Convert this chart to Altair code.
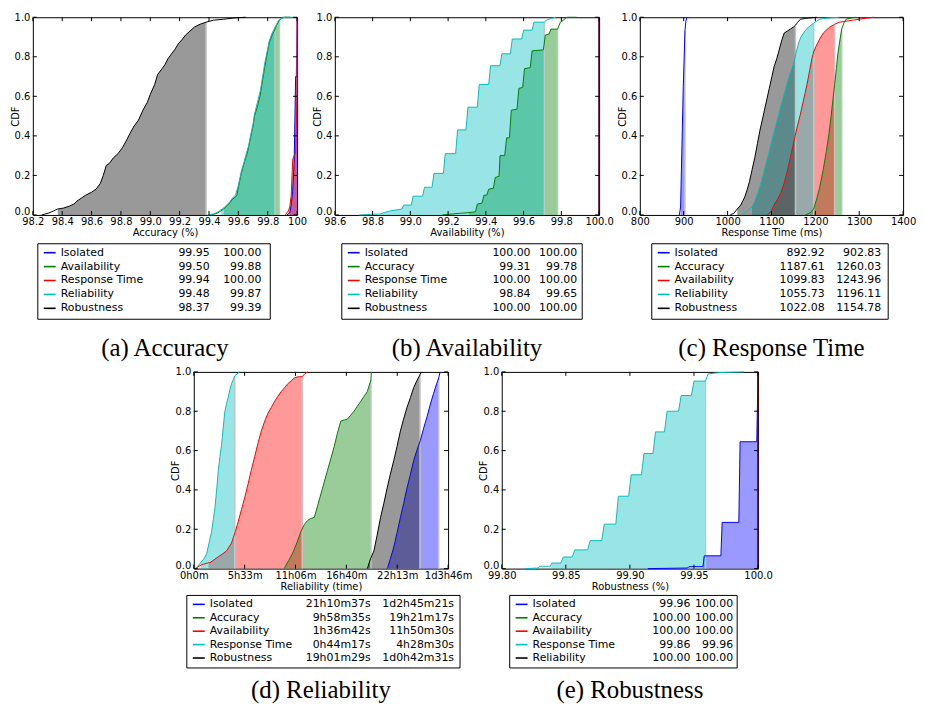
import altair as alt
import pandas as pd

FONT = "DejaVu Sans"
SERIF = "Liberation Serif"
COLORS = ["#0000ff", "#008000", "#ff0000", "#00bfbf", "#000000"]
Y_TICKS = [0.0, 0.2, 0.4, 0.6, 0.8, 1.0]

# ---------------- (a) Accuracy ----------------
A_NAMES = ["Isolated", "Availability", "Response Time", "Reliability", "Robustness"]
A_LO = ["99.95", "99.50", "99.94", "99.48", "98.37"]
A_HI = ["100.00", "99.88", "100.00", "99.87", "99.39"]
A_FILLS = [[99.95, 100.0], [99.50, 99.88], [99.94, 100.0], [99.48, 99.85], [98.37, 99.38]]
A_XTICKS = [98.2, 98.4, 98.6, 98.8, 99.0, 99.2, 99.4, 99.6, 99.8, 100.0]
A_XLABELS = ["98.2", "98.4", "98.6", "98.8", "99.0", "99.2", "99.4", "99.6", "99.8", "100"]
A_ISOLATED = [[99.93, 0.0], [99.95, 0.01], [99.96, 0.05], [99.97, 0.12], [99.98, 0.26],
              [99.99, 0.70], [100.0, 0.70], [100.0, 1.0]]
A_AVAILABILITY = [[99.41, 0.0], [99.44, 0.005], [99.46, 0.01], [99.48, 0.02], [99.50, 0.03],
                  [99.52, 0.045], [99.54, 0.06], [99.56, 0.08], [99.58, 0.09], [99.59, 0.10],
                  [99.60, 0.14], [99.62, 0.21], [99.63, 0.24], [99.65, 0.29], [99.66, 0.31],
                  [99.68, 0.38], [99.70, 0.45], [99.71, 0.50], [99.73, 0.55], [99.75, 0.61],
                  [99.76, 0.66], [99.78, 0.75], [99.79, 0.79], [99.81, 0.87], [99.83, 0.91],
                  [99.85, 0.94], [99.86, 0.96], [99.88, 0.985], [99.90, 1.0], [99.95, 1.0]]
A_RESPONSE = [[99.92, 0.0], [99.94, 0.02], [99.95, 0.04], [99.96, 0.10], [99.97, 0.28],
              [99.98, 0.30], [99.99, 0.31], [100.0, 0.62], [100.0, 1.0]]
A_RELIABILITY = [[99.39, 0.0], [99.43, 0.005], [99.46, 0.015], [99.48, 0.025], [99.50, 0.035],
                 [99.52, 0.05], [99.54, 0.065], [99.56, 0.085], [99.58, 0.10], [99.60, 0.15],
                 [99.62, 0.22], [99.64, 0.27], [99.65, 0.30], [99.67, 0.35], [99.68, 0.39],
                 [99.70, 0.46], [99.71, 0.51], [99.73, 0.57], [99.75, 0.63], [99.77, 0.72],
                 [99.78, 0.77], [99.80, 0.84], [99.81, 0.88], [99.83, 0.92], [99.85, 0.95],
                 [99.87, 0.98], [99.89, 0.995], [99.92, 1.0], [99.97, 1.0]]
A_ROBUSTNESS = [[98.26, 0.0], [98.31, 0.01], [98.34, 0.02], [98.37, 0.03], [98.41, 0.035],
                [98.45, 0.045], [98.48, 0.055], [98.50, 0.07], [98.53, 0.085], [98.56, 0.10],
                [98.60, 0.115], [98.63, 0.13], [98.66, 0.16], [98.68, 0.20], [98.70, 0.25],
                [98.72, 0.26], [98.75, 0.29], [98.78, 0.31], [98.81, 0.34], [98.84, 0.38],
                [98.86, 0.41], [98.89, 0.45], [98.92, 0.48], [98.95, 0.53], [98.98, 0.57],
                [99.00, 0.61], [99.03, 0.66], [99.05, 0.71], [99.08, 0.74], [99.10, 0.76],
                [99.12, 0.79], [99.14, 0.81], [99.17, 0.84], [99.19, 0.865], [99.22, 0.89],
                [99.24, 0.91], [99.27, 0.93], [99.30, 0.95], [99.34, 0.965], [99.38, 0.975],
                [99.43, 0.985], [99.50, 0.99], [99.58, 0.997], [99.65, 1.0]]

# ---------------- (b) Availability ----------------
B_NAMES = ["Isolated", "Accuracy", "Response Time", "Reliability", "Robustness"]
B_LO = ["100.00", "99.31", "100.00", "98.84", "100.00"]
B_HI = ["100.00", "99.78", "100.00", "99.65", "100.00"]
B_FILLS = [[100.0, 100.0], [99.31, 99.78], [100.0, 100.0], [98.84, 99.71], [100.0, 100.0]]
B_XTICKS = [98.6, 98.8, 99.0, 99.2, 99.4, 99.6, 99.8, 100.0]
B_XLABELS = ["98.6", "98.8", "99.0", "99.2", "99.4", "99.6", "99.8", "100.0"]
B_ISOLATED = [[100.0, 0.0], [100.0, 1.0]]
B_ACCURACY = [[99.17, 0.0], [99.26, 0.008], [99.31, 0.012], [99.345, 0.016], [99.355, 0.055],
              [99.38, 0.06], [99.39, 0.10], [99.405, 0.10], [99.415, 0.13], [99.44, 0.135],
              [99.45, 0.19], [99.47, 0.195], [99.475, 0.30], [99.50, 0.30], [99.51, 0.39],
              [99.525, 0.39], [99.535, 0.53], [99.565, 0.535], [99.575, 0.64], [99.595, 0.645],
              [99.605, 0.74], [99.635, 0.745], [99.645, 0.83], [99.705, 0.835], [99.715, 0.91],
              [99.735, 0.915], [99.745, 0.94], [99.78, 0.94], [99.795, 0.975], [99.81, 0.985],
              [99.83, 1.0], [99.88, 1.0]]
B_RESPONSE = [[100.0, 0.0], [100.0, 1.0]]
B_RELIABILITY = [[98.73, 0.0], [98.84, 0.005], [98.89, 0.02], [98.955, 0.03], [98.965, 0.05],
                 [99.005, 0.05], [99.015, 0.095], [99.065, 0.095], [99.075, 0.14], [99.115, 0.14],
                 [99.125, 0.21], [99.175, 0.21], [99.185, 0.31], [99.24, 0.31], [99.25, 0.43],
                 [99.295, 0.43], [99.305, 0.545], [99.355, 0.545], [99.365, 0.66], [99.415, 0.66],
                 [99.425, 0.755], [99.475, 0.755], [99.485, 0.815], [99.53, 0.815], [99.54, 0.89],
                 [99.59, 0.89], [99.60, 0.935], [99.645, 0.935], [99.655, 0.975], [99.71, 0.975],
                 [99.72, 0.985], [99.75, 0.995], [99.77, 1.0]]
B_ROBUSTNESS = [[100.0, 0.0], [100.0, 1.0]]

# ---------------- (c) Response Time ----------------
C_NAMES = ["Isolated", "Accuracy", "Availability", "Reliability", "Robustness"]
C_LO = ["892.92", "1187.61", "1099.83", "1055.73", "1022.08"]
C_HI = ["902.83", "1260.03", "1243.96", "1196.11", "1154.78"]
C_FILLS = [[892.92, 902.83], [1187.61, 1260.03], [1099.83, 1243.96], [1055.73, 1196.11], [1022.08, 1154.78]]
C_XTICKS = [800, 900, 1000, 1100, 1200, 1300, 1400]
C_XLABELS = ["800", "900", "1000", "1100", "1200", "1300", "1400"]
C_ISOLATED = [[890, 0.0], [892.92, 0.04], [896, 0.35], [899, 0.65], [902.83, 0.93], [905, 0.98], [907, 1.0]]
C_ACCURACY = [[1177, 0.0], [1187.61, 0.01], [1196, 0.03], [1203, 0.08], [1210, 0.14], [1218, 0.23],
              [1225, 0.32], [1231, 0.41], [1236, 0.50], [1240, 0.58], [1244, 0.66], [1248, 0.74],
              [1251, 0.81], [1255, 0.87], [1260.03, 0.94], [1265, 0.97], [1270, 0.99], [1280, 0.995],
              [1292, 1.0]]
C_AVAILABILITY = [[1091, 0.0], [1099.83, 0.02], [1106, 0.05], [1114, 0.08], [1121, 0.11], [1129, 0.16],
                  [1136, 0.22], [1143, 0.29], [1151, 0.37], [1158, 0.44], [1166, 0.51], [1173, 0.58],
                  [1181, 0.66], [1187, 0.73], [1192, 0.79], [1197, 0.83], [1203, 0.86], [1210, 0.89],
                  [1218, 0.92], [1225, 0.935], [1233, 0.95], [1243.96, 0.965], [1255, 0.975],
                  [1270, 0.98], [1285, 0.985], [1300, 0.99], [1315, 0.995], [1333, 1.0]]
C_RELIABILITY = [[1032, 0.0], [1045, 0.02], [1055.73, 0.04], [1062, 0.07], [1070, 0.12], [1077, 0.17],
                 [1084, 0.23], [1091, 0.29], [1099, 0.36], [1106, 0.42], [1114, 0.49], [1121, 0.55],
                 [1129, 0.61], [1136, 0.67], [1143, 0.72], [1151, 0.77], [1156, 0.82], [1162, 0.87],
                 [1167, 0.90], [1173, 0.92], [1178, 0.935], [1184, 0.95], [1190, 0.96],
                 [1196.11, 0.97], [1203, 0.98], [1210, 0.99], [1225, 0.995], [1240, 0.998], [1255, 1.0]]
C_ROBUSTNESS = [[1006, 0.0], [1015, 0.01], [1022.08, 0.03], [1030, 0.05], [1039, 0.09], [1045, 0.13],
                [1050, 0.17], [1056, 0.23], [1062, 0.29], [1068, 0.36], [1073, 0.42], [1079, 0.48],
                [1084, 0.53], [1090, 0.59], [1095, 0.64], [1101, 0.70], [1106, 0.75], [1112, 0.79],
                [1117, 0.83], [1123, 0.88], [1129, 0.92], [1136, 0.93], [1143, 0.94], [1150, 0.95],
                [1154.78, 0.96], [1160, 0.975], [1166, 0.99], [1180, 0.995], [1203, 1.0]]

# ---------------- (d) Reliability (seconds) ----------------
D_NAMES = ["Isolated", "Accuracy", "Availability", "Response Time", "Robustness"]
D_LO = ["21h10m37s", "9h58m35s", "1h36m42s", "0h44m17s", "19h01m29s"]
D_HI = ["1d2h45m21s", "19h21m17s", "11h50m30s", "4h28m30s", "1d0h42m31s"]
D_FILLS = [[76237, 96321], [35915, 69677], [5802, 42630], [2657, 16110], [68489, 88951]]
D_XTICKS = [0, 20000, 40000, 60000, 80000, 100000]
D_XLABELS = ["0h0m", "5h33m", "11h06m", "16h40m", "22h13m", "1d3h46m"]
D_ISOLATED = [[76040, 0.0], [76237, 0.005], [77300, 0.05], [78650, 0.11], [79900, 0.18], [81250, 0.26],
              [82500, 0.33], [83850, 0.41], [85200, 0.48], [86460, 0.55], [87700, 0.60], [89060, 0.65],
              [90300, 0.71], [91670, 0.77], [92900, 0.83], [94270, 0.89], [95500, 0.94], [96321, 0.97],
              [96880, 1.0]]
D_ACCURACY = [[35680, 0.0], [35915, 0.01], [37300, 0.04], [38930, 0.08], [40500, 0.13], [42190, 0.19],
              [43500, 0.225], [44790, 0.245], [46000, 0.255], [47400, 0.26], [48700, 0.32], [50000, 0.38],
              [51300, 0.44], [52600, 0.50], [53900, 0.56], [55210, 0.62], [56500, 0.69], [57810, 0.75],
              [59100, 0.755], [60420, 0.76], [61700, 0.78], [63020, 0.80], [64300, 0.825], [65630, 0.85],
              [66900, 0.875], [68230, 0.90], [69677, 0.96], [69790, 1.0]]
D_AVAILABILITY = [[520, 0.0], [3130, 0.02], [5802, 0.03], [6380, 0.03], [8000, 0.045], [9640, 0.06],
                  [11300, 0.075], [12890, 0.09], [14840, 0.13], [16400, 0.19], [17500, 0.24], [18750, 0.30],
                  [20000, 0.36], [21350, 0.43], [22600, 0.50], [23960, 0.57], [25300, 0.64], [26560, 0.70],
                  [27900, 0.75], [29170, 0.79], [30500, 0.82], [31770, 0.85], [33000, 0.875], [34380, 0.90],
                  [35700, 0.92], [36980, 0.94], [38300, 0.955], [39580, 0.97], [41000, 0.975],
                  [42630, 0.976], [43600, 0.99], [44790, 1.0]]
D_RESPONSE = [[520, 0.0], [1500, 0.01], [2657, 0.03], [4000, 0.05], [5080, 0.076], [6000, 0.13],
              [7030, 0.19], [7700, 0.25], [8330, 0.31], [9000, 0.40], [9640, 0.50], [10300, 0.57],
              [10940, 0.63], [11600, 0.72], [12240, 0.80], [12900, 0.84], [13540, 0.87], [14200, 0.91],
              [14840, 0.94], [15500, 0.96], [16110, 0.98], [17000, 0.99], [18100, 1.0]]
D_ROBUSTNESS = [[68230, 0.0], [68489, 0.01], [69500, 0.05], [70830, 0.09], [72100, 0.17], [73440, 0.26],
                [74700, 0.33], [76040, 0.41], [77300, 0.48], [78650, 0.55], [79900, 0.62], [81250, 0.70],
                [82500, 0.76], [83850, 0.82], [85200, 0.87], [86460, 0.92], [87700, 0.955],
                [88951, 0.985], [89060, 0.99], [89710, 1.0]]

# ---------------- (e) Robustness ----------------
E_NAMES = ["Isolated", "Accuracy", "Availability", "Response Time", "Reliability"]
E_LO = ["99.96", "100.00", "100.00", "99.86", "100.00"]
E_HI = ["100.00", "100.00", "100.00", "99.96", "100.00"]
E_FILLS = [[99.957, 100.0], [100.0, 100.0], [100.0, 100.0], [99.839, 99.959], [100.0, 100.0]]
E_XTICKS = [99.80, 99.85, 99.90, 99.95, 100.0]
E_XLABELS = ["99.80", "99.85", "99.90", "99.95", "100.0"]
E_ISOLATED = [[99.914, 0.0], [99.945, 0.003], [99.946, 0.01], [99.957, 0.01], [99.958, 0.065],
              [99.971, 0.065], [99.972, 0.235], [99.985, 0.235], [99.986, 0.645], [99.999, 0.645],
              [100.0, 1.0]]
E_ACCURACY = [[100.0, 0.0], [100.0, 1.0]]
E_AVAILABILITY = [[100.0, 0.0], [100.0, 1.0]]
E_RESPONSE = [[99.818, 0.0], [99.8285, 0.003], [99.8295, 0.012], [99.838, 0.012], [99.839, 0.028],
              [99.846, 0.028], [99.848, 0.059], [99.855, 0.059], [99.857, 0.095], [99.867, 0.095],
              [99.869, 0.142], [99.878, 0.142], [99.880, 0.226], [99.889, 0.226], [99.891, 0.368],
              [99.899, 0.368], [99.901, 0.477], [99.909, 0.477], [99.911, 0.585], [99.918, 0.585],
              [99.920, 0.695], [99.927, 0.695], [99.929, 0.80], [99.938, 0.80], [99.940, 0.88],
              [99.948, 0.88], [99.950, 0.953], [99.959, 0.953], [99.961, 0.99], [99.971, 0.997],
              [99.989, 1.0]]
E_RELIABILITY = [[100.0, 0.0], [100.0, 1.0]]


# ---------------- helpers ----------------
def curves_frame(curves):
    rows = []
    for s, pts in enumerate(curves):
        for i, (x, y) in enumerate(pts):
            rows.append({"s": s, "i": i, "x": x, "y": y, "color": COLORS[s]})
    return pd.DataFrame(rows)


def fill_series(pts, lo, hi):
    # points of one curve inside [lo, hi]; one point per x (the highest)
    kept = {}
    for x, y in pts:
        if lo <= x <= hi:
            kept[x] = max(y, kept.get(x, 0.0))
    return pd.DataFrame({"x": list(kept.keys()), "y": list(kept.values())})


def edges_frame(curves, fills, xmax):
    rows = []
    for pts, (lo, hi) in zip(curves, fills):
        if hi <= lo or hi >= xmax:
            continue
        ys = [y for x, y in pts if x == hi]
        rows.append({"x": hi, "y": max(ys)})
    return pd.DataFrame(rows)


def label_expr(ticks, labels):
    arr_l = ",".join("'" + s + "'" for s in labels)
    arr_v = ",".join(repr(v) for v in ticks)
    return "[" + arr_l + "][indexof([" + arr_v + "], datum.value)]"


ONE = pd.DataFrame({"k": [0]})


def plot_chart(p):
    W, H = p["W"], p["H"]
    xscale = alt.Scale(domain=p["xdom"], nice=False, zero=False)
    yscale = alt.Scale(domain=[0, 1], nice=False, zero=False)
    xaxis = alt.Axis(values=p["xticks"], labelExpr=label_expr(p["xticks"], p["xlabels"]))
    yaxis = alt.Axis(values=Y_TICKS, format=".1f",
                     labelBaseline={"expr": "datum.value == 0 ? 'alphabetic' : 'middle'"})
    X = alt.X("x:Q", title=p["xtitle"], scale=xscale, axis=xaxis)
    Y = alt.Y("y:Q", title="CDF", scale=yscale, axis=yaxis)
    layers = [alt.Chart(ONE).mark_rect(opacity=0).encode(
        x=alt.value(-p["L"]), x2=alt.value(W + p["R"]),
        y=alt.value(-p["T"]), y2=alt.value(H + p["Bp"]))]
    for s, (pts, (lo, hi)) in enumerate(zip(p["curves"], p["fills"])):
        if hi <= lo:
            continue
        layers.append(alt.Chart(fill_series(pts, lo, hi)).mark_area(
            color=COLORS[s], fillOpacity=0.4, opacity=1).encode(x=X, y=Y))
    layers.append(alt.Chart(edges_frame(p["curves"], p["fills"], p["xdom"][1])).mark_rule(
        color="#c4c4c4", strokeWidth=1.5).encode(x=X, y=Y, y2=alt.datum(0)))
    layers.append(alt.Chart(curves_frame(p["curves"])).mark_line(strokeWidth=1).encode(
        x=X, y=Y, color=alt.Color("color:N", scale=None), detail="s:N", order="i:Q"))
    xt = pd.DataFrame({"x": p["xticks"]})
    yt = pd.DataFrame({"y": Y_TICKS})
    layers += [
        alt.Chart(xt).mark_rule(color="black", strokeWidth=1).encode(
            x=X, y=alt.value(H), y2=alt.value(H - 4)),
        alt.Chart(xt).mark_rule(color="black", strokeWidth=1).encode(
            x=X, y=alt.value(0), y2=alt.value(4)),
        alt.Chart(yt).mark_rule(color="black", strokeWidth=1).encode(
            y=Y, x=alt.value(0), x2=alt.value(4)),
        alt.Chart(yt).mark_rule(color="black", strokeWidth=1).encode(
            y=Y, x=alt.value(W), x2=alt.value(W - 4)),
    ]
    return alt.layer(*layers).properties(
        width=W, height=H, view=alt.ViewBackground(stroke="black", strokeWidth=1))


def table_chart(p):
    W = p["W"]
    bx, bw, bh = p["box"]
    v1r, v2r = p["cols"]
    df = pd.DataFrame({"row": list(range(5)), "label": p["names"], "lo": p["lo"],
                       "hi": p["hi"], "color": COLORS})
    Yr = alt.Y("row:Q", axis=None, scale=alt.Scale(domain=[0, 4], range=list(p["rows"])))
    bounds = alt.Chart(ONE).mark_rect(opacity=0).encode(
        x=alt.value(-p["L"]), x2=alt.value(W + p["R"]), y=alt.value(0), y2=alt.value(p["Bt"]))
    box = alt.Chart(ONE).mark_rect(fill="white", stroke="black", strokeWidth=1).encode(
        x=alt.value(bx), x2=alt.value(bx + bw), y=alt.value(0), y2=alt.value(bh))
    base = alt.Chart(df)
    samples = base.mark_rule(strokeWidth=1.6).encode(
        x=alt.value(bx + 6), x2=alt.value(bx + 18), y=Yr, color=alt.Color("color:N", scale=None))
    txt = dict(font=FONT, fontSize=11, color="black", baseline="middle")
    labels = base.mark_text(align="left", **txt).encode(x=alt.value(bx + 23), y=Yr, text="label:N")
    lo = base.mark_text(align="right", **txt).encode(x=alt.value(bx + v1r), y=Yr, text="lo:N")
    hi = base.mark_text(align="right", **txt).encode(x=alt.value(bx + v2r), y=Yr, text="hi:N")
    cap = alt.Chart(pd.DataFrame({"c": [p["caption"]]})).mark_text(
        font=SERIF, fontSize=25, color="black", align="center", baseline="alphabetic").encode(
        x=alt.value(W / 2), y=alt.value(p["cap_y"]), text="c:N")
    return alt.layer(bounds, box, samples, labels, lo, hi, cap).properties(
        width=W, height=p["Bt"], view=alt.ViewBackground(stroke="transparent"))


def panel(p):
    return alt.vconcat(plot_chart(p), table_chart(p), spacing=0)


def spacer(width, left):
    return alt.Chart(ONE).mark_rect(opacity=0).encode(
        x=alt.value(-left), x2=alt.value(width), y=alt.value(0), y2=alt.value(4)
    ).properties(width=width, height=4, view=alt.ViewBackground(stroke="transparent"))


ROW1 = dict(T=6, H=199, Bp=27, Bt=121, rows=(9, 65), cap_y=113)
ROW2 = dict(T=6, H=198, Bp=25, Bt=110, rows=(9, 63), cap_y=103)

PA = dict(ROW1, W=266, L=24, R=12, xdom=[98.2, 100.0], xticks=A_XTICKS, xlabels=A_XLABELS,
          xtitle="Accuracy (%)",
          curves=[A_ISOLATED, A_AVAILABILITY, A_RESPONSE, A_RELIABILITY, A_ROBUSTNESS],
          fills=A_FILLS, names=A_NAMES, lo=A_LO, hi=A_HI, box=(5, 234, 76), cols=(173, 225),
          caption="(a) Accuracy")
PB = dict(ROW1, W=266, L=24, R=15, xdom=[98.6, 100.0], xticks=B_XTICKS, xlabels=B_XLABELS,
          xtitle="Availability (%)",
          curves=[B_ISOLATED, B_ACCURACY, B_RESPONSE, B_RELIABILITY, B_ROBUSTNESS],
          fills=B_FILLS, names=B_NAMES, lo=B_LO, hi=B_HI, box=(7, 242, 76), cols=(190, 237),
          caption="(b) Availability")
PC = dict(ROW1, W=265, L=24, R=13, xdom=[800, 1400], xticks=C_XTICKS, xlabels=C_XLABELS,
          xtitle="Response Time (ms)",
          curves=[C_ISOLATED, C_ACCURACY, C_AVAILABILITY, C_RELIABILITY, C_ROBUSTNESS],
          fills=C_FILLS, names=C_NAMES, lo=C_LO, hi=C_HI, box=(12, 238, 76), cols=(174, 231),
          caption="(c) Response Time")
PD = dict(ROW2, W=256, L=24, R=28, xdom=[0, 100000], xticks=D_XTICKS, xlabels=D_XLABELS,
          xtitle="Reliability (time)",
          curves=[D_ISOLATED, D_ACCURACY, D_AVAILABILITY, D_RESPONSE, D_ROBUSTNESS],
          fills=D_FILLS, names=D_NAMES, lo=D_LO, hi=D_HI, box=(-7, 275, 73), cols=(185, 269),
          caption="(d) Reliability")
PE = dict(ROW2, W=258, L=24, R=20, xdom=[99.80, 100.0], xticks=E_XTICKS, xlabels=E_XLABELS,
          xtitle="Robustness (%)",
          curves=[E_ISOLATED, E_ACCURACY, E_AVAILABILITY, E_RESPONSE, E_RELIABILITY],
          fills=E_FILLS, names=E_NAMES, lo=E_LO, hi=E_HI, box=(8, 229, 73), cols=(182, 225),
          caption="(e) Robustness")

row1 = alt.hconcat(panel(PA), panel(PB), panel(PC), spacing=0)
row2 = alt.hconcat(spacer(136, 24), panel(PD), panel(PE), spacing=0)

chart = alt.vconcat(row1, row2, spacing=0).properties(
    padding=0
).configure_axis(
    labelFont=FONT, labelFontSize=10, labelColor="black",
    titleFont=FONT, titleFontSize=10, titleFontWeight="normal", titleColor="black",
    grid=False, domain=False, ticks=False, tickSize=0, labelFlush=False, labelOverlap=False
).configure_axisX(labelPadding=2, titlePadding=1).configure_axisY(labelPadding=3, titlePadding=-6)

chart.save("out.html", embed_options={"renderer": "svg", "actions": False})
